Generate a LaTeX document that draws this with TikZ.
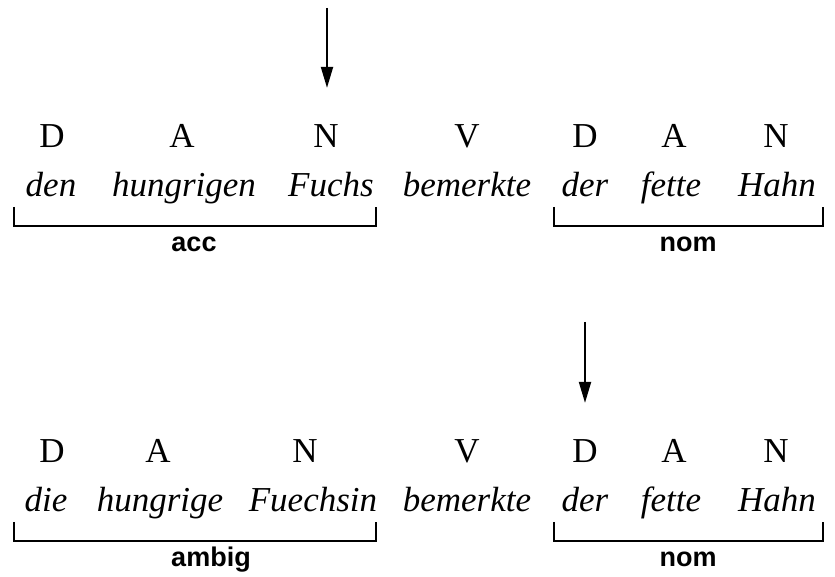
\documentclass[tikz,border=0pt]{standalone}
\usepackage{fontspec}
\setmainfont{Liberation Serif}[ItalicFont={Liberation Serif Italic}]
\newfontfamily\casefont{Liberation Sans}[BoldFont={Liberation Sans Bold}]
\usetikzlibrary{arrows.meta}
\tikzset{
	cat/.style={anchor=base, inner sep=0pt, font=\fontsize{35}{42}\selectfont},
	word/.style={cat, font=\fontsize{35}{42}\selectfont\itshape},
	casename/.style={anchor=base, inner sep=0pt, font=\casefont\bfseries\fontsize{27}{32}\selectfont},
	bracket/.style={line width=2pt},
	pointer/.style={line width=2pt, -{Triangle[length=21pt,width=12pt]}, shorten >=37pt}
}

\begin{document}
\begin{tikzpicture}[x=1pt, y=1pt]
			%%%%% START %%%%%
			\useasboundingbox (0, 0) rectangle (835, 577);
			
			%% first sentence
			\node[word] (w1a) at (51, 380) {den};
			\node[word] (w1b) at (184, 380) {hungrigen};
			\node[word] (w1c) at (331, 380) {Fuchs};
			\node[word] (w1d) at (467, 380) {bemerkte};
			\node[word] (w1e) at (585, 380) {der};
			\node[word] (w1f) at (671, 380) {fette};
			\node[word] (w1g) at (777, 380) {Hahn};
			
			\node[cat] (c1a) at (52, 429) {D};
			\node[cat] (c1b) at (182, 429) {A};
			\node[cat] (c1c) at (326, 429) {N};
			\node[cat] (c1d) at (467, 429) {V};
			\node[cat] (c1e) at (585, 429) {D};
			\node[cat] (c1f) at (674, 429) {A};
			\node[cat] (c1g) at (776, 429) {N};
			
			\coordinate (top1) at (327, 569);
			\draw[pointer] (top1) -- (top1 |- c1c.north);
			
			\coordinate (acc l) at (14, 351);
			\coordinate (acc r) at (376, 351);
			\draw[bracket] (acc l) ++(0, 19) |- (acc r) -- ++(0, 19);
			\node[casename] (acc) at (194, 325) {acc};
			
			\coordinate (nom1 l) at (554, 351);
			\coordinate (nom1 r) at (823, 351);
			\draw[bracket] (nom1 l) ++(0, 19) |- (nom1 r) -- ++(0, 19);
			\node[casename] (nom1) at (688, 325) {nom};
			
			%% second sentence
			\node[word] (w2a) at (46, 65) {die};
			\node[word] (w2b) at (160, 65) {hungrige};
			\node[word] (w2c) at (313, 65) {Fuechsin};
			\node[word] (w2d) at (467, 65) {bemerkte};
			\node[word] (w2e) at (585, 65) {der};
			\node[word] (w2f) at (671, 65) {fette};
			\node[word] (w2g) at (777, 65) {Hahn};
			
			\node[cat] (c2a) at (52, 114) {D};
			\node[cat] (c2b) at (158, 114) {A};
			\node[cat] (c2c) at (305, 114) {N};
			\node[cat] (c2d) at (467, 114) {V};
			\node[cat] (c2e) at (585, 114) {D};
			\node[cat] (c2f) at (674, 114) {A};
			\node[cat] (c2g) at (776, 114) {N};
			
			\coordinate (top2) at (585, 255);
			\draw[pointer] (top2) -- (top2 |- c2e.north);
			
			\coordinate (ambig l) at (14, 36);
			\coordinate (ambig r) at (376, 36);
			\draw[bracket] (ambig l) ++(0, 19) |- (ambig r) -- ++(0, 19);
			\node[casename] (ambig) at (211, 10) {ambig};
			
			\coordinate (nom2 l) at (554, 36);
			\coordinate (nom2 r) at (823, 36);
			\draw[bracket] (nom2 l) ++(0, 19) |- (nom2 r) -- ++(0, 19);
			\node[casename] (nom2) at (688, 10) {nom};
			
			%%%%% END %%%%%
\end{tikzpicture}
\end{document}
